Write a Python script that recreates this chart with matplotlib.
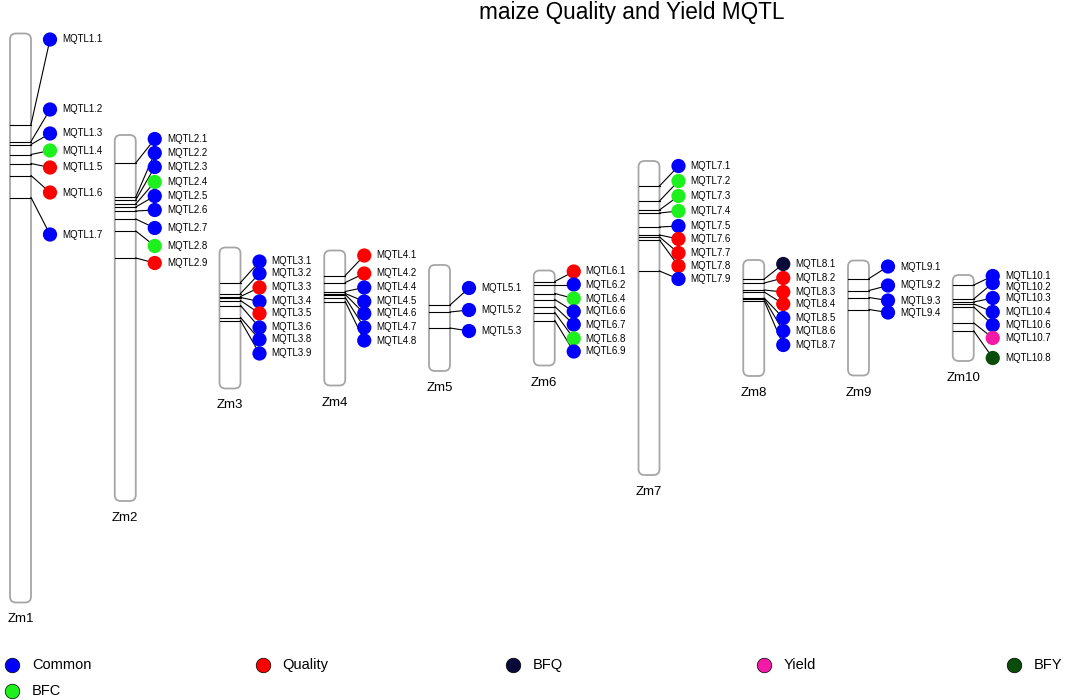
import matplotlib
matplotlib.use("Agg")
from matplotlib import pyplot as plt
from matplotlib.patches import FancyBboxPatch

plt.rcParams['font.family'] = ['Liberation Sans', 'DejaVu Sans']

# map data (units from the top of each linkage group)
chrom_names = ["Zm1", "Zm2", "Zm3", "Zm4", "Zm5", "Zm6", "Zm7", "Zm8", "Zm9", "Zm10"]
chrom_len = [569, 366, 141, 135, 106, 95, 314, 116, 115, 86]

qtl_names = [
    ["MQTL1.1", "MQTL1.2", "MQTL1.3", "MQTL1.4", "MQTL1.5", "MQTL1.6", "MQTL1.7"],
    ["MQTL2.1", "MQTL2.2", "MQTL2.3", "MQTL2.4", "MQTL2.5", "MQTL2.6", "MQTL2.7", "MQTL2.8", "MQTL2.9"],
    ["MQTL3.1", "MQTL3.2", "MQTL3.3", "MQTL3.4", "MQTL3.5", "MQTL3.6", "MQTL3.8", "MQTL3.9"],
    ["MQTL4.1", "MQTL4.2", "MQTL4.4", "MQTL4.5", "MQTL4.6", "MQTL4.7", "MQTL4.8"],
    ["MQTL5.1", "MQTL5.2", "MQTL5.3"],
    ["MQTL6.1", "MQTL6.2", "MQTL6.4", "MQTL6.6", "MQTL6.7", "MQTL6.8", "MQTL6.9"],
    ["MQTL7.1", "MQTL7.2", "MQTL7.3", "MQTL7.4", "MQTL7.5", "MQTL7.6", "MQTL7.7", "MQTL7.8", "MQTL7.9"],
    ["MQTL8.1", "MQTL8.2", "MQTL8.3", "MQTL8.4", "MQTL8.5", "MQTL8.6", "MQTL8.7"],
    ["MQTL9.1", "MQTL9.2", "MQTL9.3", "MQTL9.4"],
    ["MQTL10.1", "MQTL10.2", "MQTL10.3", "MQTL10.4", "MQTL10.6", "MQTL10.7", "MQTL10.8"],
]
qtl_pos = [
    [91, 108, 111, 121, 130, 142, 164],
    [28, 62, 65, 69, 72, 76, 84, 96, 123],
    [35, 46, 49, 50, 53, 58, 70, 73],
    [25, 32, 41, 43, 44, 47, 51],
    [40, 47, 63],
    [11, 14, 23, 29, 36, 42, 50],
    [25, 40, 49, 52, 66, 74, 76, 79, 110],
    [19, 23, 30, 32, 38, 39, 41],
    [18, 30, 37, 49],
    [10, 24, 27, 29, 32, 48, 56],
]
label_pos = [
    [6, 76, 100, 117, 134, 159, 201],
    [4, 18, 32, 47, 61, 75, 93, 111, 128],
    [14, 26, 40, 54, 66, 80, 92, 106],
    [5, 23, 37, 51, 63, 77, 90],
    [23, 45, 66],
    [1, 14, 28, 41, 54, 68, 81],
    [5, 20, 35, 50, 65, 78, 92, 105, 118],
    [4, 18, 32, 44, 58, 71, 85],
    [6, 25, 40, 52],
    [1, 8, 23, 37, 50, 63, 83],
]
qtl_type = [
    ["Common", "Common", "Common", "BFC", "Quality", "Quality", "Common"],
    ["Common", "Common", "Common", "BFC", "Common", "Common", "Common", "BFC", "Quality"],
    ["Common", "Common", "Quality", "Common", "Quality", "Common", "Common", "Common"],
    ["Quality", "Quality", "Common", "Common", "Common", "Common", "Common"],
    ["Common", "Common", "Common"],
    ["Quality", "Common", "BFC", "Common", "Common", "BFC", "Common"],
    ["Common", "BFC", "BFC", "BFC", "Common", "Quality", "Quality", "Quality", "Common"],
    ["BFQ", "Quality", "Quality", "Quality", "Common", "Common", "Common"],
    ["Common", "Common", "Common", "Common"],
    ["Common", "Common", "Common", "Common", "Common", "Yield", "BFY"],
]

legend_names = ["Common", "Quality", "BFQ", "Yield", "BFY", "BFC"]
type_colors = {"Common": "#0000FF", "Quality": "#FF0000", "BFQ": "#0A0A3A",
               "Yield": "#F21AA6", "BFY": "#0A4D0A", "BFC": "#1EF01E"}

# layout (pixel units)
W, H = 1065, 700
mid_y = 318
x0, dx = 20.5, 104.75
cw = 21
dot_off = 29.5
min_gap = 11  # text rows are kept at least this far apart

fig = plt.figure(figsize=(W / 100, H / 100), dpi=100)
ax = fig.add_axes([0, 0, 1, 1])
ax.set_xlim(0, W)
ax.set_ylim(H, 0)
ax.axis("off")

for i, name in enumerate(chrom_names):
    xc = x0 + i * dx
    top = mid_y - chrom_len[i] / 2
    bot = top + chrom_len[i]
    box = FancyBboxPatch((xc - cw / 2, top), cw, chrom_len[i],
                         boxstyle="round,pad=0,rounding_size=6",
                         fc="white", ec="#A6A6A6", lw=1.3, zorder=1)
    ax.add_patch(box)
    ax.text(xc, bot + 17, name, ha="center", va="center", fontsize=9.5)

    xd = xc + dot_off
    last_txt = -1e9
    for nm, p, lp, t in zip(qtl_names[i], qtl_pos[i], label_pos[i], qtl_type[i]):
        yl = top + p
        yd = top + lp
        ax.plot([xc - cw / 2, xc + cw / 2], [yl, yl], color="black", lw=0.8, zorder=2)
        ax.plot([xc + cw / 2, xd], [yl, yd], color="black", lw=0.8, zorder=2)
        ax.scatter([xd], [yd], s=105, color=type_colors[t], edgecolors="none", zorder=3)
        yt = max(yd, last_txt + min_gap)
        last_txt = yt
        ax.text(xd + 12, yt, nm, ha="left", va="center", fontsize=7)

ax.text(632, 12, "maize Quality and Yield MQTL", ha="center", va="center", fontsize=16.3)

# legend
for k, nm in enumerate(legend_names):
    lx = 12 + 250.5 * (k % 5)
    ly = 665 + 26 * (k // 5)
    ax.scatter([lx], [ly], s=110, color=type_colors[nm], edgecolors="black", linewidths=0.5)
    ax.text(lx + 20, ly, nm, ha="left", va="center", fontsize=10.5)

fig.savefig("out.png", dpi=100)
